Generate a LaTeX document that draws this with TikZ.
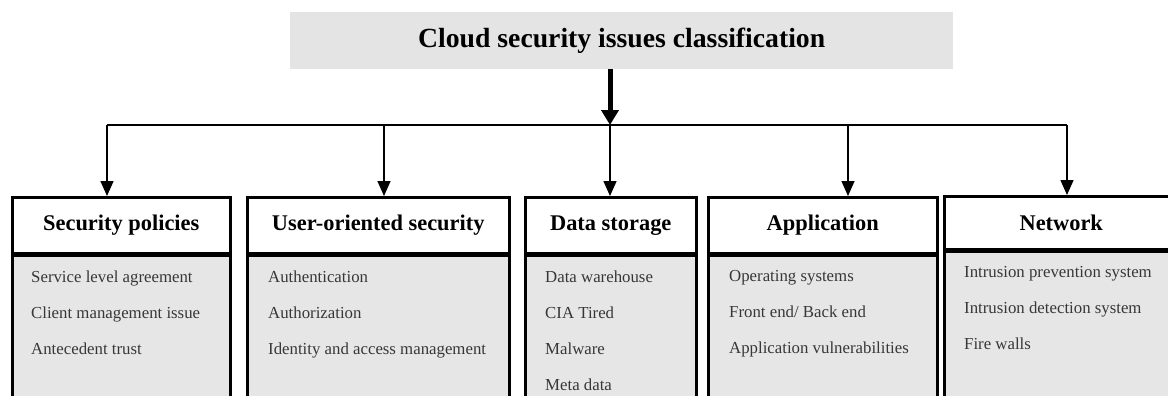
\documentclass[tikz,border=0pt]{standalone}
\usepackage{fontspec}
\setmainfont{Liberation Serif}
\usetikzlibrary{arrows.meta, positioning, calc}

\definecolor{boxgray}{RGB}{230,230,230}
\definecolor{titlegray}{RGB}{228,228,228}
\definecolor{itemtext}{RGB}{55,55,55}

\tikzset{
    head/.style={
        draw,
        line width=2.5pt,
        fill=white,
        anchor=north west,
        minimum height=56pt,
        inner sep=0pt,
        font=\fontsize{22.4}{24}\selectfont\bfseries
    },
    body/.style={
        draw,
        line width=2.5pt,
        fill=boxgray,
        anchor=north west,
        minimum height=170pt,
        inner sep=0pt
    },
    items/.style={
        align=left,
        inner sep=0pt,
        text=itemtext,
        font=\fontsize{16.8}{36}\selectfont
    },
    conn/.style={
        line width=1.5pt,
        -{Triangle[width=13pt,length=15pt]}
    },
    mainconn/.style={
        line width=5pt,
        -{Triangle[width=17pt,length=15pt]}
    }
}

\begin{document}
\begin{tikzpicture}[x=1pt,y=-1pt]

\useasboundingbox (0,0) rectangle (1168,396);
\clip (0,0) rectangle (1168,396);

\node[fill=titlegray, anchor=north west, minimum width=663pt, minimum height=57pt,
      font=\fontsize{27.7}{30}\selectfont\bfseries] (title) at (290,12)
      {Cloud security issues classification};

% column headers
\node[head, minimum width=218pt] (h1) at (11,196) {Security policies};
\node[head, minimum width=262pt] (h2) at (246,196) {User-oriented security};
\node[head, minimum width=171pt] (h3) at (524,196) {Data storage};
\node[head, minimum width=229pt] (h4) at (707,196) {Application};
\node[head, minimum width=234pt, minimum height=53pt] (h5) at (943,195) {Network};

\node[body, minimum width=218pt] (b1) at (h1.south west) {};
\node[body, minimum width=262pt] (b2) at (h2.south west) {};
\node[body, minimum width=171pt] (b3) at (h3.south west) {};
\node[body, minimum width=229pt] (b4) at (h4.south west) {};
\node[body, minimum width=234pt, minimum height=147pt] (b5) at (h5.south west) {};

\node[items, below right=16pt and 20pt of b1.north west] (l1)
    {Service level agreement\\Client management issue\\Antecedent trust};
\node[items, below right=16pt and 22pt of b2.north west] (l2)
    {Authentication\\Authorization\\Identity and access management};
\node[items, below right=16pt and 21pt of b3.north west] (l3)
    {Data warehouse\\CIA Tired\\Malware\\Meta data};
\node[items, below right=16pt and 22pt of b4.north west] (l4)
    {Operating systems\\Front end/ Back end\\Application vulnerabilities};
\node[items, below right=16pt and 21pt of b5.north west] (l5)
    {Intrusion prevention system\\Intrusion detection system\\Fire walls};

% bus
\coordinate (bus1) at (107,125);
\coordinate (bus2) at (384,125);
\coordinate (bus3) at (610,125);
\coordinate (bus4) at (848,125);
\coordinate (bus5) at (1067,125);

\draw[mainconn] (title.south -| bus3) -- (bus3);
\draw[line width=1.5pt] (bus1) -- (bus5);

\draw[conn] (bus1) -- (bus1 |- h1.north);
\draw[conn] (bus2) -- (bus2 |- h2.north);
\draw[conn] (bus3) -- (bus3 |- h3.north);
\draw[conn] (bus4) -- (bus4 |- h4.north);
\draw[conn] (bus5) -- (bus5 |- h5.north);

\end{tikzpicture}
\end{document}
